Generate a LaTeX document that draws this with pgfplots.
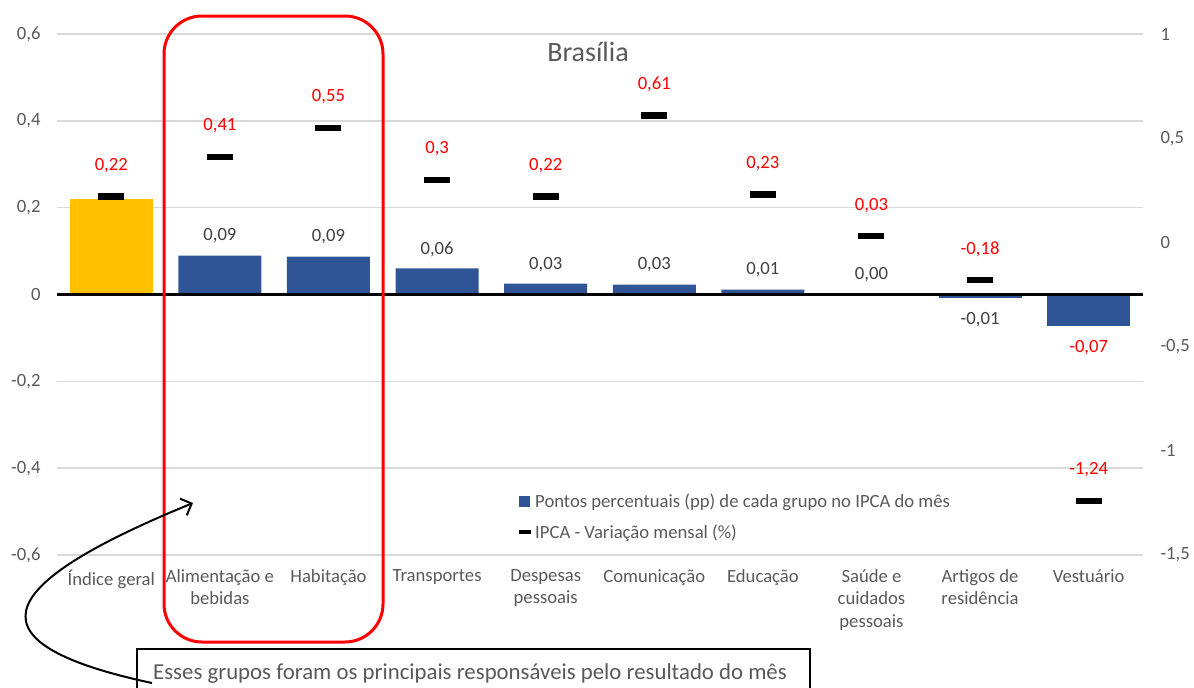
\documentclass[border=0pt]{standalone}
\usepackage{fontspec}
\setmainfont{Carlito}
\usepackage{pgfplots}
\pgfplotsset{compat=1.18}
\usepackage{pgfplotstable}
\usetikzlibrary{arrows.meta}
\definecolor{barblue}{HTML}{2F5597}
\definecolor{baryellow}{HTML}{FFC000}
\definecolor{gridgray}{HTML}{D9D9D9}
\definecolor{txtgray}{HTML}{595959}
\definecolor{lblgray}{HTML}{404040}
\definecolor{ipcared}{HTML}{FF0000}
\newcommand{\fs}{\fontsize{18.67}{22.4}\selectfont}

\pgfplotstableread{
x y lab
1 0.0898 0,09
2 0.0875 0,09
3 0.0600 0,06
4 0.0250 0,03
5 0.0230 0,03
6 0.0115 0,01
7 0.0005 0,00
}\pospp
\pgfplotstableread{
x y lab
8 -0.0076 -0,01
}\negpp
\pgfplotstableread{
x y lab
9 -0.0730 -0,07
}\negred
\pgfplotstableread{
x y lab
0 0.22 0,22
1 0.41 0,41
2 0.55 0,55
3 0.30 0,3
4 0.22 0,22
5 0.61 0,61
6 0.23 0,23
7 0.03 0,03
8 -0.18 -0,18
9 -1.24 -1,24
}\ipca

\begin{document}
\begin{tikzpicture}
\useasboundingbox (0,0) rectangle (1194pt,-688pt);
\begin{axis}[
  at={(57pt,-555pt)}, anchor=south west,
  scale only axis, width=1086pt, height=521pt,
  xmin=-0.5, xmax=9.5, ymin=-0.6, ymax=0.6,
  axis line style={draw=none}, major tick length=0pt,
  ytick={-0.6,-0.4,-0.2,0,0.2,0.4,0.6},
  ymajorgrids, grid style={gridgray, line width=1.5pt},
  xtick={0,1,2,3,4,5,6,7,8,9},
  xticklabels={Índice geral, {Alimentação e\\bebidas}, Habitação, Transportes, {Despesas\\pessoais}, Comunicação, Educação, {Saúde e\\cuidados\\pessoais}, {Artigos de\\residência}, Vestuário},
  xticklabel style={align=center, font=\fs, text=txtgray, yshift=-11pt},
  yticklabel style={font=\fs, text=txtgray, xshift=-13pt},
  /pgf/number format/use comma, /pgf/number format/fixed,
  /pgf/number format/precision=1, /pgf/number format/assume math mode=true,
  bar width=83pt, clip=false,
  legend style={at={(0.4236,0.122)}, anchor=north west, draw=none, fill=none,
    font=\fs, text=txtgray, cells={anchor=west}, row sep=12pt, inner sep=0pt},
]
\addplot[ybar, bar shift=0pt, fill=baryellow, draw=none, forget plot] coordinates {(0,0.2204)};
\addplot[ybar, bar shift=0pt, fill=barblue, draw=none,
  nodes near coords, point meta=explicit symbolic, nodes near coords align={anchor=center},
  every node near coord/.append style={font=\fs, text=lblgray, yshift=19.5pt},
  legend image code/.code={\fill[barblue] (0pt,-5.5pt) rectangle (11pt,5.5pt);}]
  table[meta=lab] {\pospp};
\addlegendentry{Pontos percentuais (pp) de cada grupo no IPCA do mês}
\addplot[ybar, bar shift=0pt, fill=barblue, draw=none, forget plot,
  nodes near coords, point meta=explicit symbolic, nodes near coords align={anchor=center},
  every node near coord/.append style={font=\fs, text=lblgray, yshift=-21.5pt}]
  table[meta=lab] {\negpp};
\addplot[ybar, bar shift=0pt, fill=barblue, draw=none, forget plot,
  nodes near coords, point meta=explicit symbolic, nodes near coords align={anchor=center},
  every node near coord/.append style={font=\fs, text=ipcared, yshift=-21.5pt}]
  table[meta=lab] {\negred};
\addlegendimage{legend image code/.code={\draw[black, line width=4pt] (0pt,0pt) -- (12pt,0pt);}}
\addlegendentry{IPCA - Variação mensal (\%)}
\draw[black, line width=3pt] (axis cs:-0.5,0) -- (axis cs:9.5,0);
\end{axis}
\begin{axis}[
  at={(57pt,-555pt)}, anchor=south west,
  scale only axis, width=1086pt, height=521pt,
  xmin=-0.5, xmax=9.5, ymin=-1.5, ymax=1,
  axis y line*=right, hide x axis,
  axis line style={draw=none}, major tick length=0pt,
  ytick={-1.5,-1,-0.5,0,0.5,1},
  yticklabel style={font=\fs, text=txtgray, anchor=west, xshift=14pt},
  /pgf/number format/use comma, /pgf/number format/fixed,
  /pgf/number format/precision=1, /pgf/number format/assume math mode=true,
  clip=false,
]
\addplot[only marks, mark=-, mark size=13pt, mark options={line width=6.5pt, draw=black},
  nodes near coords, point meta=explicit symbolic, nodes near coords align={anchor=center},
  every node near coord/.append style={font=\fs, text=ipcared, yshift=31pt}]
  table[meta=lab] {\ipca};
\end{axis}
\node[fill=white, inner xsep=8pt, font=\fontsize{28}{33}\selectfont, text=txtgray] at (588pt,-52pt) {Brasília};
\draw[red, line width=3pt, rounded corners=38pt] (164pt,-16pt) rectangle (383pt,-642pt);
\draw[black, line width=2pt, fill=white] (137pt,-649pt) rectangle (810pt,-720pt);
\node[anchor=base west, font=\fontsize{22.8}{27}\selectfont, text=txtgray, inner sep=0pt] at (153pt,-679pt) {Esses grupos foram os principais responsáveis pelo resultado do mês};
\draw[black, line width=2pt, -{Straight Barb[length=9pt, width=18pt]}] (152pt,-683pt) .. controls (-50pt,-640pt) and (10pt,-578pt) .. (193pt,-503pt);
\end{tikzpicture}
\end{document}
